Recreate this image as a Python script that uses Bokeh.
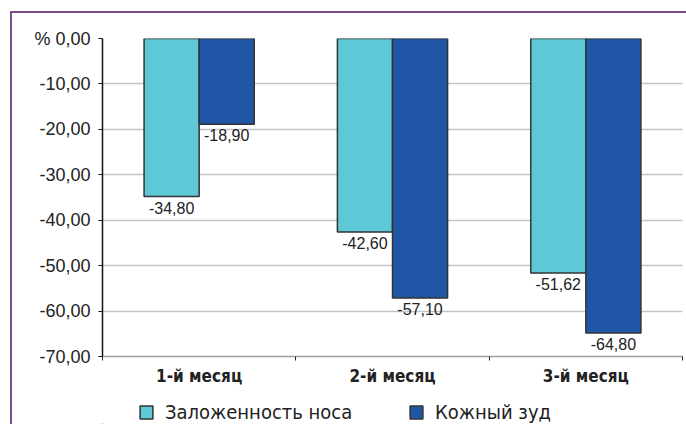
from bokeh.plotting import figure
from bokeh.models import (Range1d, FixedTicker, LinearAxis, Legend, LegendItem,
                          ColumnDataSource, LabelSet, Grid)
from bokeh.layouts import column
from bokeh.core.properties import value
from bokeh.embed import file_html
from bokeh.resources import INLINE

categories = ["1-й месяц", "2-й месяц", "3-й месяц"]
series_names = ["Заложенность носа", "Кожный зуд"]
congestion = [-34.80, -42.60, -51.62]
itch = [-18.90, -57.10, -64.80]
y_ticks = [0, -10, -20, -30, -40, -50, -60, -70]
y_tick_labels = ["% 0,00", "-10,00", "-20,00", "-30,00", "-40,00", "-50,00", "-60,00", "-70,00"]

LIGHT = "#5ec8d6"
DARK = "#1f56a6"
BW = 0.285
COND = "DejaVu Sans Condensed, Roboto, sans-serif"
FRAME = "2px solid #7a4d8c"

centers = [i + 0.5 for i in range(len(categories))]
fmt = lambda v: ("%.2f" % v).replace(".", ",")

src1 = ColumnDataSource(dict(x=[c - BW / 2 for c in centers], top=[0] * 3, bottom=congestion,
                             lab=[fmt(v) for v in congestion]))
src2 = ColumnDataSource(dict(x=[c + BW / 2 for c in centers], top=[0] * 3, bottom=itch,
                             lab=[fmt(v) for v in itch]))

# ---- main chart ----
p = figure(width=674, height=377, output_backend="svg", toolbar_location=None,
           x_range=Range1d(0, 3), y_range=Range1d(-70, 0),
           x_axis_type=None, y_axis_type=None)
p.min_border_left = 90
p.min_border_right = 4
p.min_border_top = 25
p.min_border_bottom = 34
p.outline_line_color = None
p.background_fill_color = "white"
p.border_fill_color = "white"

yax = LinearAxis(ticker=FixedTicker(ticks=y_ticks, minor_ticks=[]))
yax.major_label_overrides = {t: l for t, l in zip(y_ticks, y_tick_labels)}
yax.major_label_text_font = "Liberation Sans"
yax.major_label_text_font_size = "18px"
yax.major_label_text_color = "#222222"
yax.major_label_standoff = 8
yax.axis_line_color = "#111111"
yax.axis_line_width = 1.5
yax.major_tick_line_color = "#111111"
yax.major_tick_out = 4
yax.major_tick_in = 0
p.add_layout(yax, "left")

xax = LinearAxis(ticker=FixedTicker(ticks=centers, minor_ticks=[0, 1, 2, 3]))
xax.major_label_overrides = {c: l for c, l in zip(centers, categories)}
xax.major_label_text_font = COND
xax.major_label_text_font_style = "bold"
xax.major_label_text_font_size = "17px"
xax.major_label_text_color = "#222222"
xax.major_label_standoff = 3
xax.axis_line_color = "#a0a0a0"
xax.axis_line_width = 1.5
xax.major_tick_line_color = None
xax.minor_tick_line_color = "#222222"
xax.minor_tick_out = 4
xax.minor_tick_in = 0
p.add_layout(xax, "below")

g = Grid(dimension=1, ticker=FixedTicker(ticks=y_ticks))
g.grid_line_color = "#c4c4c4"
g.grid_line_width = 1.5
p.add_layout(g)

p.vbar(x="x", top="top", bottom="bottom", width=BW, source=src1,
       fill_color=LIGHT, line_color="#333333", line_width=1.5)
p.vbar(x="x", top="top", bottom="bottom", width=BW, source=src2,
       fill_color=DARK, line_color="#333333", line_width=1.5)

for s in (src1, src2):
    p.add_layout(LabelSet(x="x", y="bottom", text="lab", source=s, text_align="center",
                          text_baseline="top", y_offset=-5, text_font=value("Liberation Sans"),
                          text_font_size="16px", text_color="#222222"))

# ---- legend strip (same series, drawn far outside its visible ranges) ----
q = figure(width=674, height=34, output_backend="svg", toolbar_location=None,
           x_range=Range1d(1000, 1003), y_range=Range1d(1000, 1010),
           x_axis_type=None, y_axis_type=None)
q.min_border = 0
q.min_border_left = 0
q.min_border_right = 0
q.min_border_top = 0
q.min_border_bottom = 0
q.outline_line_color = None
q.background_fill_color = "white"
q.border_fill_color = "white"
q.grid.visible = False
l1 = q.vbar(x="x", top="top", bottom="bottom", width=BW, source=src1,
            fill_color=LIGHT, line_color="#333333", line_width=1.5)
l2 = q.vbar(x="x", top="top", bottom="bottom", width=BW, source=src2,
            fill_color=DARK, line_color="#333333", line_width=1.5)

legend = Legend(items=[LegendItem(label=series_names[0], renderers=[l1]),
                       LegendItem(label=series_names[1], renderers=[l2])],
                orientation="horizontal", location=(36, 0))
legend.label_text_font = COND
legend.label_text_font_size = "20px"
legend.label_text_color = "#222222"
legend.glyph_width = 16
legend.glyph_height = 16
legend.label_standoff = 11
legend.label_width = 211
legend.spacing = 32
legend.padding = 0
legend.margin = 0
legend.border_line_color = None
legend.background_fill_alpha = 0
q.add_layout(legend, "center")

layout = column(p, q, spacing=0,
                styles={"margin-left": "10px", "margin-top": "11px",
                        "border-left": FRAME, "border-top": FRAME})

open("out.html", "w").write(file_html(layout, INLINE))
